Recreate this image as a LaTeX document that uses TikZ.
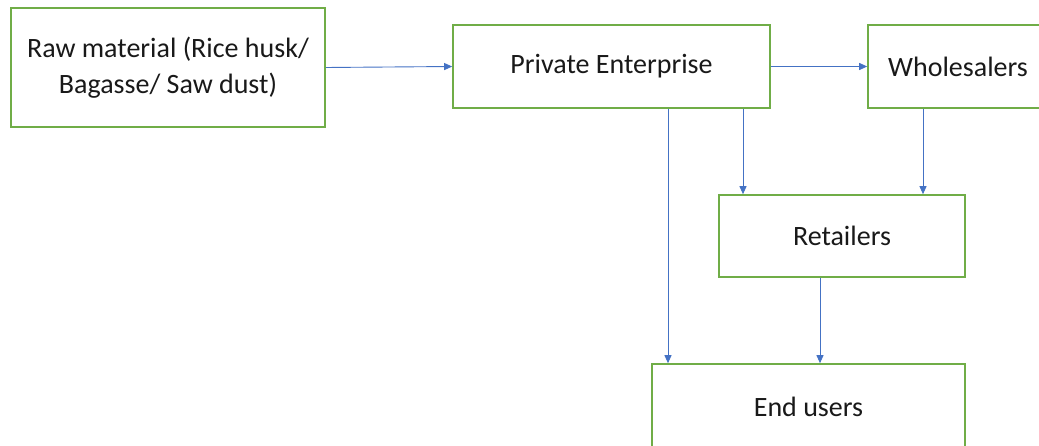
\documentclass[tikz,border=0pt]{standalone}
\usepackage{fontspec}
\setmainfont{Carlito}
\usetikzlibrary{arrows.meta}
\definecolor{boxgreen}{HTML}{70AD47}
\definecolor{arrblue}{HTML}{4472C4}
\begin{document}
\begin{tikzpicture}[x=1pt,y=-1pt,
  flowbox/.style={draw=boxgreen,line width=1.6pt,fill=white,inner sep=0pt,
    align=center,font=\fontsize{28}{36}\selectfont,text=black!90},
  flow/.style={draw=arrblue,line width=0.9pt,-{Triangle[length=8pt,width=7pt]}}]
\useasboundingbox (0,0) rectangle (1039,446);
\clip (0,0) rectangle (1039,446);
\node[flowbox,minimum width=314pt,minimum height=119pt] (raw) at (168,67.5)
  {Raw material (Rice husk/\\Bagasse/ Saw dust)};
\node[flowbox,minimum width=317pt,minimum height=83pt] (pe) at (611.5,66.5) {Private Enterprise};
\node[flowbox,minimum width=180pt,minimum height=83pt] (wh) at (958,66.5) {Wholesalers};
\node[flowbox,minimum width=246pt,minimum height=82pt] (ret) at (842,236) {Retailers};
\node[flowbox,minimum width=313pt,minimum height=86pt] (end) at (808.5,407) {End users};
\draw[flow] (raw.east) -- (pe.west);
\draw[flow] (pe.east) -- (wh.west);
\draw[flow] ([xshift=131.5pt]pe.south) -- ([xshift=131.5pt]pe.south |- ret.north);
\draw[flow] ([xshift=-35pt]wh.south) -- ([xshift=-35pt]wh.south |- ret.north);
\draw[flow] ([xshift=56.5pt]pe.south) -- ([xshift=56.5pt]pe.south |- end.north);
\draw[flow] ([xshift=-22pt]ret.south) -- ([xshift=-22pt]ret.south |- end.north);
\end{tikzpicture}
\end{document}
